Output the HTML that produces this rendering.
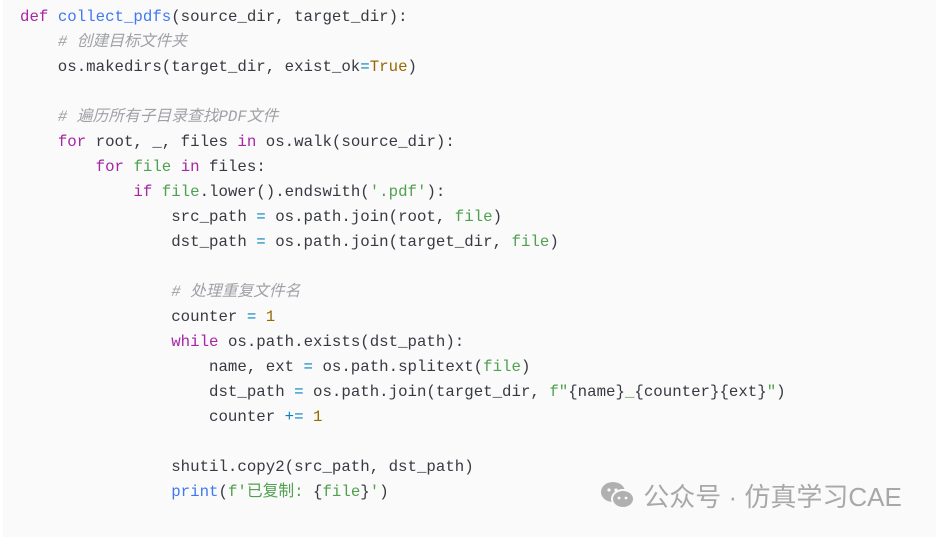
<!DOCTYPE html>
<html><head><meta charset="utf-8"><style>
html,body{margin:0;padding:0;background:#fff;}
#box{position:absolute;left:3px;top:0;width:933px;height:537px;background:#fafafa;}
pre{position:absolute;left:20px;top:5px;margin:0;font-family:"Liberation Mono","Noto Sans CJK SC",monospace;font-size:15.75px;line-height:25px;color:#383a42;}
.k{color:#a626a4}.f{color:#4078f2}.c{color:#a0a1a7;font-style:italic}.n{color:#986801}.s{color:#50a14f}.o{color:#0184bc}.b{color:#50a14f}
#wm{position:absolute;left:600px;top:479px;font-family:"Liberation Sans","Noto Sans CJK SC",sans-serif;font-size:26px;color:#a8a8a8;line-height:36px;white-space:nowrap;}
</style></head><body><div id="box"></div>
<pre><span class="k">def</span> <span class="f">collect_pdfs</span>(source_dir, target_dir):
    <span class="c"># 创建目标文件夹</span>
    os.makedirs(target_dir, exist_ok<span class="o">=</span><span class="n">True</span>)

    <span class="c"># 遍历所有子目录查找PDF文件</span>
    <span class="k">for</span> root, _, files <span class="k">in</span> os.walk(source_dir):
        <span class="k">for</span> <span class="b">file</span> <span class="k">in</span> files:
            <span class="k">if</span> <span class="b">file</span>.lower().endswith(<span class="s">'.pdf'</span>):
                src_path <span class="o">=</span> os.path.join(root, <span class="b">file</span>)
                dst_path <span class="o">=</span> os.path.join(target_dir, <span class="b">file</span>)

                <span class="c"># 处理重复文件名</span>
                counter <span class="o">=</span> <span class="n">1</span>
                <span class="k">while</span> os.path.exists(dst_path):
                    name, ext <span class="o">=</span> os.path.splitext(<span class="b">file</span>)
                    dst_path <span class="o">=</span> os.path.join(target_dir, <span class="s">f"</span>{name}<span class="s">_</span>{counter}{ext}<span class="s">"</span>)
                    counter <span class="o">+=</span> <span class="n">1</span>

                shutil.copy2(src_path, dst_path)
                <span class="f">print</span>(<span class="s">f'已复制: </span>{<span class="b">file</span>}<span class="s">'</span>)</pre>
<div id="wm"><svg width="36" height="30" viewBox="0 0 36 30" style="vertical-align:-5px"><ellipse cx="13" cy="11" rx="12" ry="10" fill="#b0b0b0"/><ellipse cx="23" cy="18" rx="11" ry="9" fill="#b0b0b0" stroke="#fafafa" stroke-width="2"/><circle cx="9" cy="9" r="1.6" fill="#fafafa"/><circle cx="16" cy="9" r="1.6" fill="#fafafa"/><circle cx="19" cy="17" r="1.4" fill="#fafafa"/><circle cx="26" cy="17" r="1.4" fill="#fafafa"/></svg> 公众号 · 仿真学习CAE</div>
</body></html>
